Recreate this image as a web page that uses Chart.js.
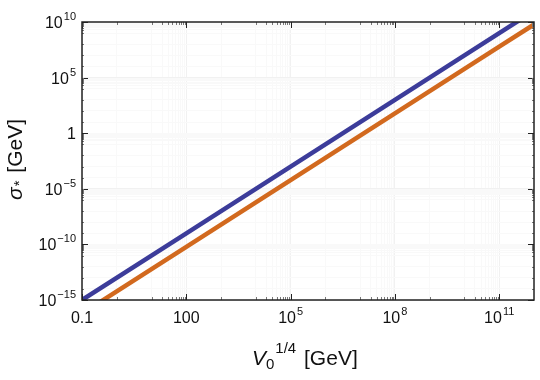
<!DOCTYPE html>
<html>
<head>
<meta charset="utf-8">
<script src="https://cdn.jsdelivr.net/npm/chart.js@4"></script>
<style>
  html, body { margin: 0; padding: 0; background: #fff; }
  #wrap { width: 540px; height: 380px; }
</style>
</head>
<body>
<div id="wrap"><canvas id="sigmaChart"></canvas></div>
<script>
// V0^(1/4) in GeV
const xValues = [0.1, 100, 1e5, 1e8, 1e11, 1e12];
// sigma_* in GeV
const upperSigma = [1e-15, 1e-9, 1e-3, 1e3, 1e9, 1e11];
const lowerSigma = [6e-17, 6e-11, 6e-5, 6e1, 6e7, 6e9];

const xTicks = [0.1, 100, 1e5, 1e8, 1e11];
const xTickLabels = [['0.1', ''], ['100', ''], ['10', '5'], ['10', '8'], ['10', '11']];
const yTicks = [1e-15, 1e-10, 1e-5, 1, 1e5, 1e10];
const yTickLabels = [['10', '\u221215'], ['10', '\u221210'], ['10', '\u22125'], ['1', ''], ['10', '5'], ['10', '10']];

const FONT = '"Liberation Sans", Arial, sans-serif';

function minorTicks(majors, lo, hi) {
  const out = [];
  for (let e = Math.round(Math.log10(lo)); e < Math.round(Math.log10(hi)); e++) {
    const d = Math.pow(10, e);
    if (majors.some(m => Math.abs(Math.log10(m) - e) < 1e-6)) continue;
    out.push(d);
  }
  // 2..9 subdivisions in the decade below each major
  majors.forEach(m => {
    for (let k = 2; k <= 9; k++) {
      const v = m / 10 * k;
      if (v > lo && v < hi) out.push(v);
    }
  });
  return out;
}

const frame = {
  id: 'frame',
  afterDraw(chart) {
    const { ctx, chartArea: a, scales: { x, y } } = chart;
    ctx.save();
    ctx.lineCap = 'butt';
    const xMin = minorTicks(xTicks, 0.1, 1e12);
    const yMin = minorTicks(yTicks, 1e-15, 1e10);
    ctx.lineWidth = 1;
    ctx.strokeStyle = '#222';
    xTicks.forEach(v => {
      const px = Math.round(x.getPixelForValue(v)) + 0.5;
      ctx.beginPath();
      ctx.moveTo(px, a.bottom); ctx.lineTo(px, a.bottom - 6);
      ctx.moveTo(px, a.top); ctx.lineTo(px, a.top + 6);
      ctx.stroke();
    });
    yTicks.forEach(v => {
      const py = Math.round(y.getPixelForValue(v)) + 0.5;
      ctx.beginPath();
      ctx.moveTo(a.left, py); ctx.lineTo(a.left + 6, py);
      ctx.moveTo(a.right, py); ctx.lineTo(a.right - 6, py);
      ctx.stroke();
    });
    ctx.strokeStyle = '#777';
    xMin.forEach(v => {
      const px = Math.round(x.getPixelForValue(v)) + 0.5;
      ctx.beginPath();
      ctx.moveTo(px, a.bottom); ctx.lineTo(px, a.bottom - 3);
      ctx.moveTo(px, a.top); ctx.lineTo(px, a.top + 3);
      ctx.stroke();
    });
    yMin.forEach(v => {
      const py = Math.round(y.getPixelForValue(v)) + 0.5;
      ctx.beginPath();
      ctx.moveTo(a.left, py); ctx.lineTo(a.left + 2, py);
      ctx.moveTo(a.right, py); ctx.lineTo(a.right - 2, py);
      ctx.stroke();
    });
    // frame
    ctx.strokeStyle = '#222';
    ctx.lineWidth = 1.5;
    ctx.strokeRect(a.left, a.top, a.right - a.left, a.bottom - a.top);

    // tick labels with real superscripts
    ctx.fillStyle = '#111';
    ctx.textBaseline = 'alphabetic';
    const base = '16px ' + FONT, sup = '11px ' + FONT;
    xTicks.forEach((v, i) => {
      const [b, e] = xTickLabels[i];
      ctx.font = base; const wb = ctx.measureText(b).width;
      ctx.font = sup; const we = e ? ctx.measureText(e).width + 1 : 0;
      const cx = x.getPixelForValue(v);
      const sx = cx - (wb + we) / 2;
      ctx.textAlign = 'left';
      ctx.font = base; ctx.fillText(b, sx, a.bottom + 23);
      if (e) { ctx.font = sup; ctx.fillText(e, sx + wb + 1, a.bottom + 15); }
    });
    yTicks.forEach((v, i) => {
      const [b, e] = yTickLabels[i];
      const py = y.getPixelForValue(v);
      ctx.font = sup; const we = e ? ctx.measureText(e).width + 1 : 0;
      const rx = a.left - 6;
      ctx.textAlign = 'right';
      if (e) { ctx.font = sup; ctx.fillText(e, rx, py - 2); }
      ctx.font = base; ctx.fillText(b, rx - we, py + 6);
    });

    // axis titles
    ctx.textAlign = 'left';
    const tx = 252, ty = 365;
    ctx.font = 'italic 21px ' + FONT; ctx.fillText('V', tx, ty);
    let cur = tx + ctx.measureText('V').width;
    ctx.font = '15px ' + FONT; ctx.fillText('0', cur, ty + 4);
    cur += ctx.measureText('0').width;
    ctx.fillText('1/4', cur + 1, ty - 12);
    cur += ctx.measureText('1/4').width + 1;
    ctx.font = '21px ' + FONT; ctx.fillText(' [GeV]', cur + 2, ty);

    ctx.save();
    ctx.translate(22, 200);
    ctx.rotate(-Math.PI / 2);
    ctx.font = 'italic 21px ' + FONT; ctx.fillText('\u03c3', 0, 0);
    let c2 = ctx.measureText('\u03c3').width;
    ctx.font = '15px ' + FONT; ctx.fillText('*', c2 + 1, 2);
    c2 += ctx.measureText('*').width + 1;
    ctx.font = '21px ' + FONT; ctx.fillText(' [GeV]', c2 + 2, 0);
    ctx.restore();
    ctx.restore();
  }
};

const ctx = document.getElementById('sigmaChart');

new Chart(ctx, {
  type: 'line',
  data: {
    datasets: [{
      label: 'upper',
      data: xValues.map((v, i) => ({ x: v, y: upperSigma[i] })),
      borderColor: '#3c3c9a',
      borderWidth: 4.5,
      pointRadius: 0,
      fill: false
    }, {
      label: 'lower',
      data: xValues.map((v, i) => ({ x: v, y: lowerSigma[i] })),
      borderColor: '#d2691e',
      borderWidth: 4.5,
      pointRadius: 0,
      fill: false
    }]
  },
  options: {
    responsive: true,
    maintainAspectRatio: false,
    animation: false,
    layout: { padding: { top: 22, right: 6, left: 0, bottom: 0 } },
    plugins: {
      legend: { display: false },
      tooltip: { enabled: false }
    },
    scales: {
      x: {
        type: 'logarithmic',
        min: 0.1,
        max: 1e12,
        afterBuildTicks: s => { s.ticks = xTicks.concat(minorTicks(xTicks, 0.1, 1e12)).map(v => ({ value: v })); },
        afterFit: s => { s.height = 80; },
        ticks: { display: false },
        border: { display: false },
        grid: {
          drawTicks: false,
          color: c => xTicks.includes(c.tick && c.tick.value) ? '#f1f1f1' : '#f9f9f9'
        }
      },
      y: {
        type: 'logarithmic',
        min: 1e-15,
        max: 1e10,
        afterBuildTicks: s => { s.ticks = yTicks.concat(minorTicks(yTicks, 1e-15, 1e10)).map(v => ({ value: v })); },
        afterFit: s => { s.width = 82; },
        ticks: { display: false },
        border: { display: false },
        grid: {
          drawTicks: false,
          color: c => yTicks.includes(c.tick && c.tick.value) ? '#f1f1f1' : '#f9f9f9'
        }
      }
    }
  },
  plugins: [frame]
});
</script>
</body>
</html>
